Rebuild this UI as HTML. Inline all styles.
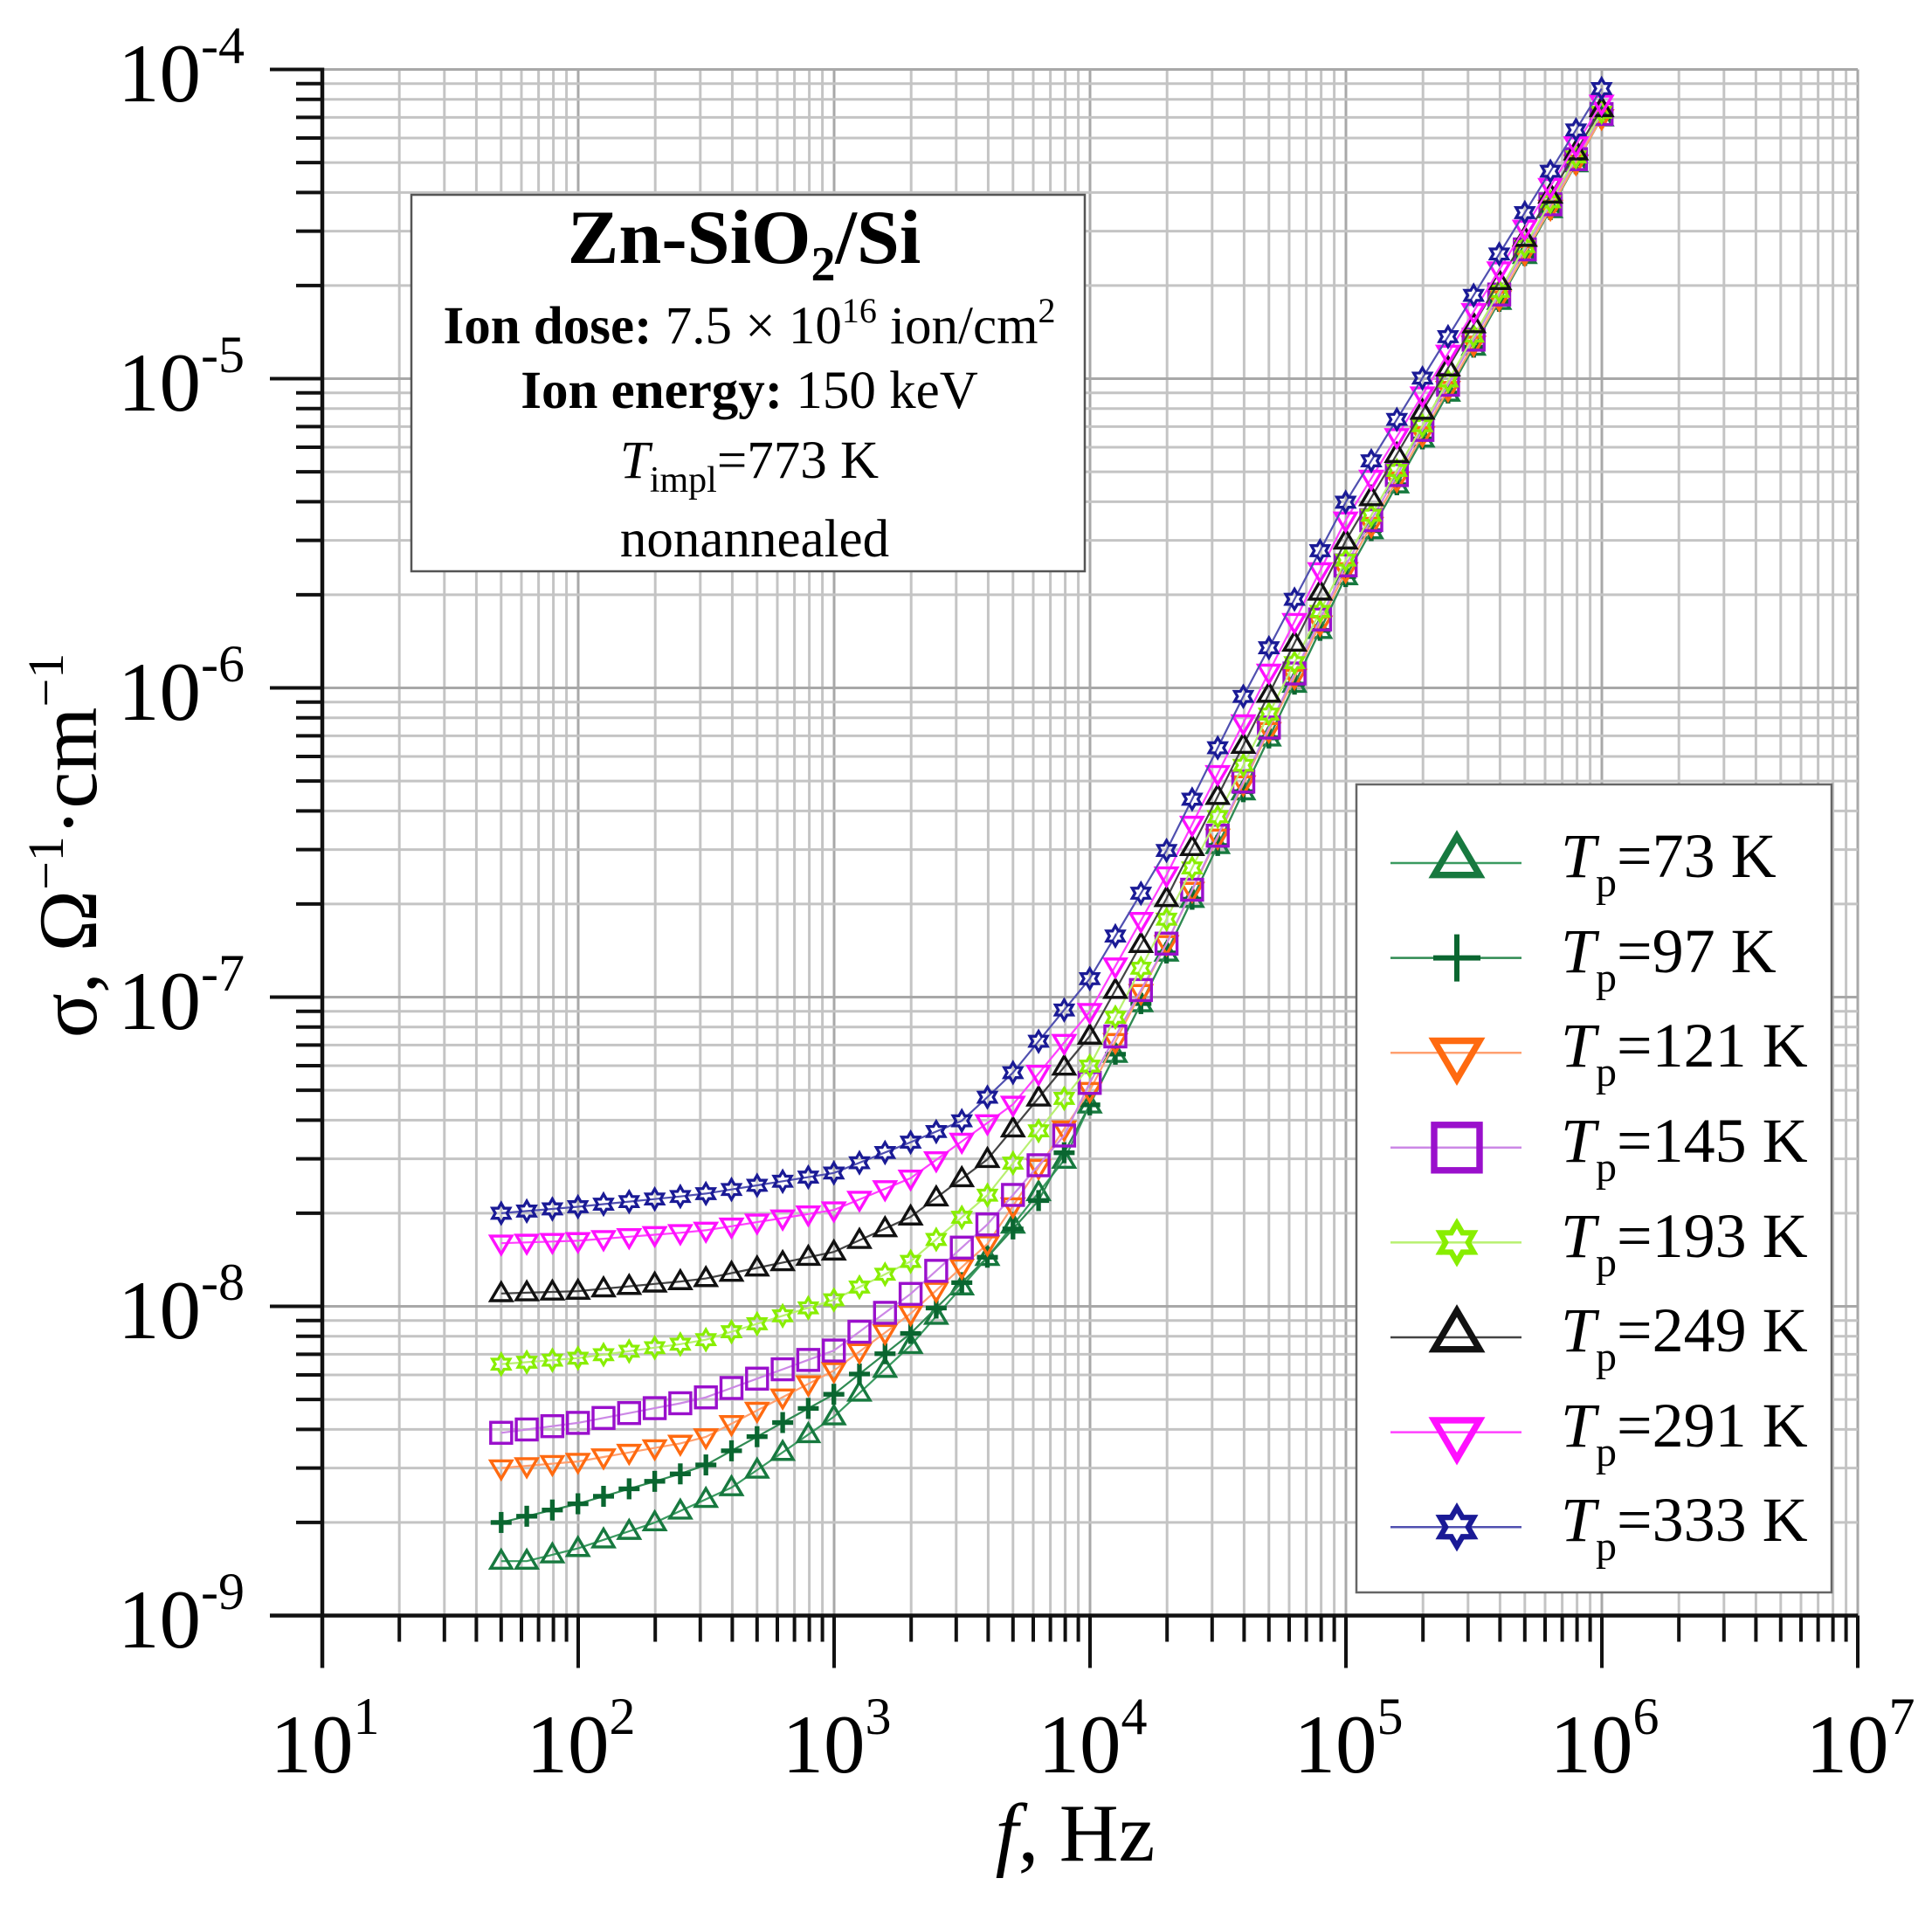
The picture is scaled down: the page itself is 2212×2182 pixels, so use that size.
<!DOCTYPE html>
<html><head><meta charset="utf-8"><style>
html,body{margin:0;padding:0;background:#fff;}
svg{display:block;}
text{font-family:"Liberation Serif",serif;fill:#000;}
</style></head><body>
<svg id="s" width="2212" height="2182" viewBox="0 0 2212 2182" xmlns="http://www.w3.org/2000/svg">
<rect width="2212" height="2182" fill="#fff"/>
<g id="grid"></g>
<g id="series"></g>
<g id="axes"></g>
<!-- Info box -->
<rect x="471" y="223" width="771" height="431" fill="#fff" stroke="#555" stroke-width="2.5"/>
<text x="852" y="301" text-anchor="middle" font-size="88" font-weight="bold">Zn-SiO<tspan font-size="56" dy="20">2</tspan><tspan dy="-20">/Si</tspan></text>
<text x="858" y="393" text-anchor="middle" font-size="61"><tspan font-weight="bold">Ion dose:</tspan> 7.5 × 10<tspan font-size="40" dy="-24">16</tspan><tspan dy="24"> ion/cm</tspan><tspan font-size="40" dy="-24">2</tspan></text>
<text x="858" y="467" text-anchor="middle" font-size="61"><tspan font-weight="bold">Ion energy:</tspan> 150 keV</text>
<text x="858" y="547" text-anchor="middle" font-size="61"><tspan font-style="italic">T</tspan><tspan font-size="42" dy="16">impl</tspan><tspan dy="-16">=773 K</tspan></text>
<text x="864" y="637" text-anchor="middle" font-size="61">nonannealed</text>
<!-- Legend -->
<rect x="1553" y="898" width="544" height="925" fill="#fff" stroke="#666" stroke-width="2.5"/>
<g id="legend"></g>
<!-- Axis titles -->
<text x="1231" y="2130" text-anchor="middle" font-size="94"><tspan font-style="italic">f</tspan>, Hz</text>
<text transform="translate(110,968) rotate(-90)" text-anchor="middle" font-size="95">σ, Ω<tspan font-size="58" dy="-38">−1</tspan><tspan dy="38">·cm</tspan><tspan font-size="58" dy="-38">−1</tspan></text>
<!-- Y tick labels -->
<g font-size="95" text-anchor="end">
<text x="280" y="116">10<tspan font-size="60" dy="-44">-4</tspan></text>
<text x="280" y="470">10<tspan font-size="60" dy="-44">-5</tspan></text>
<text x="280" y="824">10<tspan font-size="60" dy="-44">-6</tspan></text>
<text x="280" y="1178">10<tspan font-size="60" dy="-44">-7</tspan></text>
<text x="280" y="1532">10<tspan font-size="60" dy="-44">-8</tspan></text>
<text x="280" y="1886">10<tspan font-size="60" dy="-44">-9</tspan></text>
</g>
<!-- X tick labels -->
<g font-size="95" text-anchor="middle">
<text x="372" y="2029">10<tspan font-size="60" dy="-44">1</tspan></text>
<text x="665" y="2029">10<tspan font-size="60" dy="-44">2</tspan></text>
<text x="958" y="2029">10<tspan font-size="60" dy="-44">3</tspan></text>
<text x="1251" y="2029">10<tspan font-size="60" dy="-44">4</tspan></text>
<text x="1544" y="2029">10<tspan font-size="60" dy="-44">5</tspan></text>
<text x="1837" y="2029">10<tspan font-size="60" dy="-44">6</tspan></text>
<text x="2130" y="2029">10<tspan font-size="60" dy="-44">7</tspan></text>
</g>
<g font-size="72" id="legtext">
<text x="1787" y="1004"><tspan font-style="italic">T</tspan><tspan font-size="48" dy="22">p</tspan><tspan dy="-22">=73 K</tspan></text>
<text x="1787" y="1113"><tspan font-style="italic">T</tspan><tspan font-size="48" dy="22">p</tspan><tspan dy="-22">=97 K</tspan></text>
<text x="1787" y="1221"><tspan font-style="italic">T</tspan><tspan font-size="48" dy="22">p</tspan><tspan dy="-22">=121 K</tspan></text>
<text x="1787" y="1330"><tspan font-style="italic">T</tspan><tspan font-size="48" dy="22">p</tspan><tspan dy="-22">=145 K</tspan></text>
<text x="1787" y="1439"><tspan font-style="italic">T</tspan><tspan font-size="48" dy="22">p</tspan><tspan dy="-22">=193 K</tspan></text>
<text x="1787" y="1547"><tspan font-style="italic">T</tspan><tspan font-size="48" dy="22">p</tspan><tspan dy="-22">=249 K</tspan></text>
<text x="1787" y="1656"><tspan font-style="italic">T</tspan><tspan font-size="48" dy="22">p</tspan><tspan dy="-22">=291 K</tspan></text>
<text x="1787" y="1764"><tspan font-style="italic">T</tspan><tspan font-size="48" dy="22">p</tspan><tspan dy="-22">=333 K</tspan></text>
</g>
</svg>
<script>
(function(){
var NS="http://www.w3.org/2000/svg";
function X(lf){return 369+(lf-1)*293;}
function Y(lv){return 79.5+(-4-lv)*354;}
function el(p,t,a){var e=document.createElementNS(NS,t);for(var k in a)e.setAttribute(k,a[k]);p.appendChild(e);return e;}
var grid=document.getElementById('grid'),axes=document.getElementById('axes');
var L=369,R=2127,T=79.5,B=1849.5;
for(var d=1;d<7;d++){for(var m=1;m<10;m++){var x=X(d+Math.log10(m));
 el(grid,'line',{x1:x,y1:T,x2:x,y2:B,stroke:m==1?'#a8a8a8':'#c4c4c4','stroke-width':3});
 el(axes,'line',{x1:x,y1:B,x2:x,y2:B+(m==1?60:30),stroke:'#111','stroke-width':4});}}
el(grid,'line',{x1:R,y1:T,x2:R,y2:B,stroke:'#a8a8a8','stroke-width':3});
el(axes,'line',{x1:R,y1:B,x2:R,y2:B+60,stroke:'#111','stroke-width':4});
for(var d=-9;d<-4;d++){for(var m=1;m<10;m++){var y=Y(d+Math.log10(m));
 el(grid,'line',{x1:L,y1:y,x2:R,y2:y,stroke:m==1?'#a8a8a8':'#c4c4c4','stroke-width':3});
 el(axes,'line',{x1:L-(m==1?60:30),y1:y,x2:L,y2:y,stroke:'#111','stroke-width':4});}}
el(grid,'line',{x1:L,y1:T,x2:R,y2:T,stroke:'#a8a8a8','stroke-width':3});
el(axes,'line',{x1:L-60,y1:T,x2:L,y2:T,stroke:'#111','stroke-width':4});
el(axes,'line',{x1:L,y1:T-2,x2:L,y2:B+60,stroke:'#111','stroke-width':4.5});
el(axes,'line',{x1:L-60,y1:B,x2:R,y2:B,stroke:'#111','stroke-width':4.5});

function tri(g,x,y,s,c,up){var h=s*0.85,p=up?[[x,y-h*0.6],[x-s/2,y+h*0.4],[x+s/2,y+h*0.4]]:[[x,y+h*0.6],[x-s/2,y-h*0.4],[x+s/2,y-h*0.4]];
 el(g,'polygon',{points:p.map(function(q){return q.join(',')}).join(' '),fill:'none',stroke:c,'stroke-width':s/7});}
function star(g,x,y,s,c){var r=s/2,pts=[];for(var i=0;i<12;i++){var a=Math.PI/6*i-Math.PI/2,rr=i%2?r*0.58:r;pts.push((x+rr*Math.cos(a)).toFixed(1)+','+(y+rr*Math.sin(a)).toFixed(1));}
 el(g,'polygon',{points:pts.join(' '),fill:'none',stroke:c,'stroke-width':s/7});}
function marker(g,type,x,y,s,c,pw){
 if(type=='tu')tri(g,x,y,s,c,true);else if(type=='td')tri(g,x,y,s,c,false);
 else if(type=='sq')el(g,'rect',{x:x-s/2,y:y-s/2,width:s,height:s,fill:'none',stroke:c,'stroke-width':s/7});
 else if(type=='pl'){var w=pw||s/4.5;el(g,'line',{x1:x-s/2,y1:y,x2:x+s/2,y2:y,stroke:c,'stroke-width':w});el(g,'line',{x1:x,y1:y-s/2,x2:x,y2:y+s/2,stroke:c,'stroke-width':w});}
 else star(g,x,y,s,c);}
var S=[
 {t:'tu',c:'#17793f',lc:'#3a9a60',k:[[50,1.5e-9],[63,1.5e-9],[100,1.65e-9],[200,2.0e-9],[400,2.6e-9],[1000,4.4e-9],[2000,7.5e-9],[4000,1.45e-8],[8000,3.0e-8],[1e4,4.5e-8],[2e4,1.4e-7],[1e5,2.3e-6],[1e6,7.0e-5]]},
 {t:'pl',c:'#0a6630',lc:'#2f8a52',k:[[50,2.0e-9],[100,2.3e-9],[300,3.0e-9],[1000,5.2e-9],[2000,8.2e-9],[4000,1.45e-8],[6300,2.2e-8],[1e4,4.5e-8],[2e4,1.4e-7],[1e5,2.3e-6],[1e6,7.0e-5]]},
 {t:'td',c:'#ff6a10',lc:'#ffa070',k:[[50,3.0e-9],[100,3.15e-9],[300,3.7e-9],[1000,6.2e-9],[2000,9.5e-9],[4000,1.6e-8],[1e4,5.0e-8],[2e4,1.5e-7],[1e5,2.4e-6],[1e6,7.0e-5]]},
 {t:'sq',c:'#9a10cc',lc:'#cc88e6',k:[[50,3.9e-9],[100,4.2e-9],[300,5.0e-9],[1000,7.2e-9],[2000,1.1e-8],[4000,1.85e-8],[8000,3.6e-8],[1e4,5.3e-8],[2e4,1.5e-7],[1e5,2.5e-6],[1e6,7.2e-5]]},
 {t:'st',c:'#88ee00',lc:'#b8f070',k:[[50,6.5e-9],[100,6.8e-9],[300,7.7e-9],[1000,1.05e-8],[2000,1.4e-8],[4000,2.3e-8],[1e4,6.0e-8],[2e4,1.8e-7],[1e5,2.6e-6],[1e6,7.3e-5]]},
 {t:'tu',c:'#111111',lc:'#444444',k:[[50,1.1e-8],[100,1.12e-8],[300,1.22e-8],[1000,1.5e-8],[2000,1.95e-8],[4000,3.0e-8],[1e4,7.5e-8],[2e4,2.1e-7],[1e5,3.0e-6],[1e6,7.5e-5]]},
 {t:'td',c:'#ff10ff',lc:'#ff40ff',k:[[50,1.6e-8],[100,1.63e-8],[300,1.75e-8],[1000,2.05e-8],[2000,2.6e-8],[5000,4.5e-8],[1e4,9.0e-8],[2e4,2.5e-7],[1e5,3.5e-6],[1e6,7.8e-5]]},
 {t:'st',c:'#1a1a96',lc:'#5050b0',k:[[50,2.0e-8],[100,2.1e-8],[300,2.3e-8],[1000,2.7e-8],[2000,3.4e-8],[3200,4.0e-8],[5000,5.7e-8],[1e4,1.15e-7],[2e4,3.0e-7],[4e4,9.5e-7],[1e5,4.0e-6],[1e6,8.7e-5]]}
];
var sg=document.getElementById('series'),lg=document.getElementById('legend');
S.forEach(function(s,idx){
 var k=s.k.map(function(p){return [Math.log10(p[0]),Math.log10(p[1])];});
 function f(lf){for(var i=0;i<k.length-1;i++){if(lf<=k[i+1][0]){var t=(lf-k[i][0])/(k[i+1][0]-k[i][0]);return k[i][1]+t*(k[i+1][1]-k[i][1]);}}return k[k.length-1][1];}
 var pts=[];for(var i=0;i<=43;i++){var lf=Math.log10(50)+i*0.1;if(lf>6)lf=6;pts.push([X(lf),Y(f(lf))]);}
 var g=el(sg,'g',{});
 el(g,'polyline',{points:pts.map(function(p){return p[0].toFixed(1)+','+p[1].toFixed(1)}).join(' '),fill:'none',stroke:s.lc,'stroke-width':2.2});
 var sz=s.t=='st'?23:24;
 pts.forEach(function(p){marker(g,s.t,p[0],p[1],sz,s.c);});
 var ly=988+idx*108.6;
 el(lg,'line',{x1:1592,y1:ly,x2:1742,y2:ly,stroke:s.lc,'stroke-width':2.5});
 var ls=s.t=='st'?44:52; var yy=ly;
 if(s.t=='tu')yy=ly-4; if(s.t=='td')yy=ly+4;
 marker(lg,s.t,1668,yy,s.t=='pl'?54:ls,s.c,6);
});
})();
</script>
</body></html>
